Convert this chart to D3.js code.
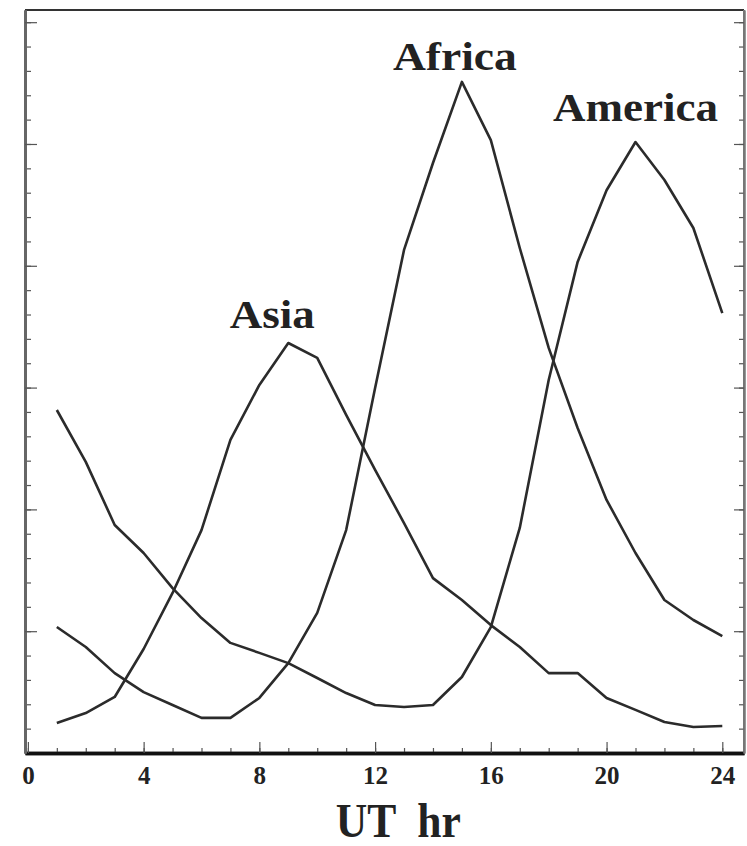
<!DOCTYPE html>
<html>
<head>
<meta charset="utf-8">
<script src="https://cdn.jsdelivr.net/npm/d3@7"></script>
<style>
  body { margin: 0; background: #fff; }
  text { font-family: "Liberation Serif", "Times New Roman", serif; font-weight: bold; fill: #222; }
</style>
</head>
<body>
<div class="chart"></div>
<script>
// UT hour of each reading
const hours = [1, 2, 3, 4, 5, 6, 7, 8, 9, 10, 11, 12, 13, 14, 15, 16, 17, 18, 19, 20, 21, 22, 23, 24];

// activity per region (arbitrary units)
const asia = [1.23, 1.64, 2.30, 4.27, 6.57, 9.15, 12.85, 15.11, 16.83, 16.22, 13.88, 11.62,
  9.44, 7.18, 6.28, 5.25, 4.35, 3.28, 3.28, 2.26, 1.77, 1.27, 1.07, 1.11];
const africa = [5.17, 4.35, 3.28, 2.50, 1.97, 1.44, 1.44, 2.26, 3.69, 5.75, 9.15, 14.98,
  20.65, 24.22, 27.55, 25.16, 20.73, 16.63, 13.34, 10.39, 8.21, 6.28, 5.46, 4.80];
const america = [14.08, 11.95, 9.36, 8.21, 6.77, 5.54, 4.52, 4.11, 3.69, 3.08, 2.46, 1.97,
  1.89, 1.97, 3.12, 5.17, 9.24, 15.31, 20.16, 23.1, 25.08, 23.52, 21.55, 18.06];

const regionNames = ["Asia", "Africa", "America"];
const xTickLabels = [0, 4, 8, 12, 16, 20, 24];
const xTitle = "UT  hr";

const margin = { top: 10, right: 3, bottom: 93, left: 25 },
  width = 747 - margin.left - margin.right,
  height = 846 - margin.top - margin.bottom;

const x = d3.scaleLinear()
  .domain([-0.1, 24.75])
  .range([0, width]);

const y = d3.scaleLinear()
  .domain([0, 30.5])
  .range([height, 0]);

const svg = d3.select(".chart").append("svg")
  .attr("width", width + margin.left + margin.right)
  .attr("height", height + margin.top + margin.bottom)
  .append("g")
  .attr("transform", "translate(" + margin.left + "," + margin.top + ")");

// frame: top and right edges
svg.append("line")
  .attr("x1", 0).attr("x2", width).attr("y1", 0).attr("y2", 0)
  .attr("stroke", "#333").attr("stroke-width", 2);
svg.append("line")
  .attr("x1", width).attr("x2", width).attr("y1", 0).attr("y2", height)
  .attr("stroke", "#777").attr("stroke-width", 2);

// minor ticks every hour / unit, major every 4 hr / 5 units, all pointing inward
const minorX = d3.range(0, 25);
const minorY = d3.range(1, 31);
const majorY = d3.range(5, 31, 5);

const styleAxis = (g, color, w) => {
  g.select(".domain").attr("stroke", color).attr("stroke-width", w);
  g.selectAll(".tick line").attr("stroke", "#555").attr("stroke-width", 1.2);
};

svg.append("g")
  .attr("transform", "translate(0," + height + ")")
  .call(d3.axisBottom(x).tickValues(minorX).tickSize(-5).tickFormat("").tickSizeOuter(0))
  .call(g => styleAxis(g, "#111", 3.5));

svg.append("g")
  .attr("transform", "translate(0," + height + ")")
  .call(d3.axisBottom(x).tickValues(xTickLabels).tickSize(-11).tickPadding(13).tickSizeOuter(0))
  .call(g => styleAxis(g, "#111", 3.5))
  .selectAll("text")
  .style("font-size", "25px")
  .style("font-family", "'Liberation Serif', serif")
  .style("font-weight", "bold")
  .attr("fill", "#333");

svg.append("g")
  .call(d3.axisLeft(y).tickValues(minorY).tickSize(-6).tickFormat("").tickSizeOuter(0))
  .call(g => styleAxis(g, "#666", 3));
svg.append("g")
  .call(d3.axisLeft(y).tickValues(majorY).tickSize(-12).tickFormat("").tickSizeOuter(0))
  .call(g => styleAxis(g, "#666", 3));

svg.append("g")
  .attr("transform", "translate(" + width + ",0)")
  .call(d3.axisRight(y).tickValues(minorY).tickSize(-5).tickFormat("").tickSizeOuter(0))
  .call(g => styleAxis(g, "#777", 2));
svg.append("g")
  .attr("transform", "translate(" + width + ",0)")
  .call(d3.axisRight(y).tickValues(majorY).tickSize(-10).tickFormat("").tickSizeOuter(0))
  .call(g => styleAxis(g, "#777", 2));

// the three curves
const series = [asia, africa, america];
const line = d3.line()
  .x((d, i) => x(hours[i]))
  .y(d => y(d));

svg.selectAll(".curve")
  .data(series)
  .enter().append("path")
  .attr("class", "curve")
  .attr("d", line)
  .attr("fill", "none")
  .attr("stroke", "#2b2b2b")
  .attr("stroke-width", 2.6)
  .attr("stroke-linejoin", "round");

// region names above each peak
const labelDx = [-16, -7, 0];
const labelDy = [-15, -12, -21];
const labelLen = [85, 124, 165];

svg.selectAll(".region")
  .data(series)
  .enter().append("text")
  .attr("class", "region")
  .attr("x", (d, i) => x(hours[d.indexOf(d3.max(d))]) + labelDx[i] - labelLen[i] / 2)
  .attr("y", (d, i) => y(d3.max(d)) + labelDy[i])
  .attr("textLength", (d, i) => labelLen[i])
  .attr("lengthAdjust", "spacingAndGlyphs")
  .style("font-size", "40px")
  .text((d, i) => regionNames[i]);

// axis title, centred under hour 12.8 like the scan
svg.append("text")
  .attr("x", x(12.8))
  .attr("y", height + 84)
  .attr("text-anchor", "middle")
  .attr("xml:space", "preserve")
  .attr("textLength", 125)
  .attr("lengthAdjust", "spacingAndGlyphs")
  .style("font-size", "48px")
  .text(xTitle);
</script>
</body>
</html>
